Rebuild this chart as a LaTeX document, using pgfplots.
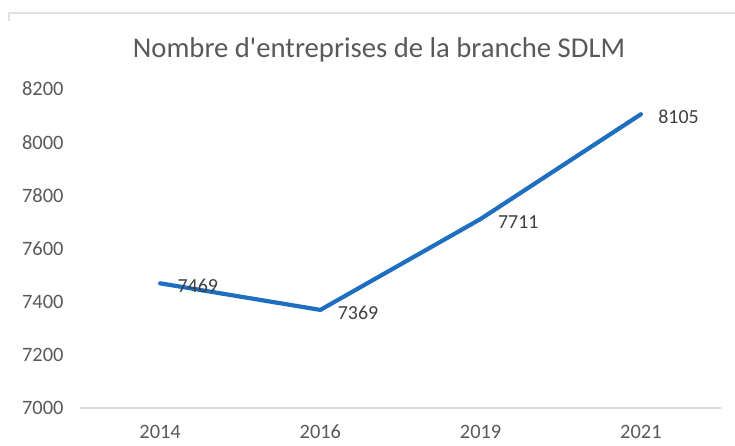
\documentclass[border=0pt]{standalone}
\usepackage{pgfplots}
\pgfplotsset{compat=1.18}
\usepackage{fontspec}
\setmainfont{Carlito}
\definecolor{lineblue}{HTML}{1F6FC0}
\definecolor{ticktext}{HTML}{595959}
\definecolor{labeltext}{HTML}{404040}
\definecolor{axisgray}{HTML}{D9D9D9}
\begin{document}
\begin{tikzpicture}[x=1bp,y=1bp]
\useasboundingbox (0,0) rectangle (735,446);
\draw[axisgray!80, line width=2bp] (9,425) -- (9,433) -- (736,433);
\node[text=ticktext, font=\fontsize{28.8}{32}\selectfont] at (379,396) {Nombre d\textquotesingle entreprises de la branche SDLM};
\begin{axis}[
  at={(80bp,38bp)}, anchor=south west,
  scale only axis, width=641bp, height=319bp,
  xmin=-0.5, xmax=3.5, ymin=7000, ymax=8200,
  xtick={0,1,2,3}, xticklabels={2014,2016,2019,2021},
  ytick={7000,7200,...,8200},
  axis line style={draw=none},
  xtick pos=bottom, ytick pos=left,
  major tick length=0pt,
  tick style={draw=none},
  /pgf/number format/assume math mode=true,
  /pgf/number format/1000 sep={},
  ticklabel style={text=ticktext, font=\fontsize{20.5}{23}\selectfont},
  yticklabel style={xshift=-13bp},
  xticklabel style={yshift=-15bp, text depth=0pt, text height=12bp},
  clip=false,
  nodes near coords,
  point meta=explicit symbolic,
  every node near coord/.append style={anchor=west, xshift=12bp, yshift=-3bp, text=labeltext, font=\fontsize{20}{23}\selectfont},
]
\draw[axisgray, line width=1.5bp] (axis cs:-0.5,7000) -- (axis cs:3.5,7000);
\addplot[color=lineblue, line width=4.2bp, line join=round, line cap=round, mark=none] coordinates {
  (0,7469) [7469]
  (1,7369) [7369]
  (2,7711) [7711]
  (3,8105) [8105]
};
\end{axis}
\end{tikzpicture}
\end{document}
